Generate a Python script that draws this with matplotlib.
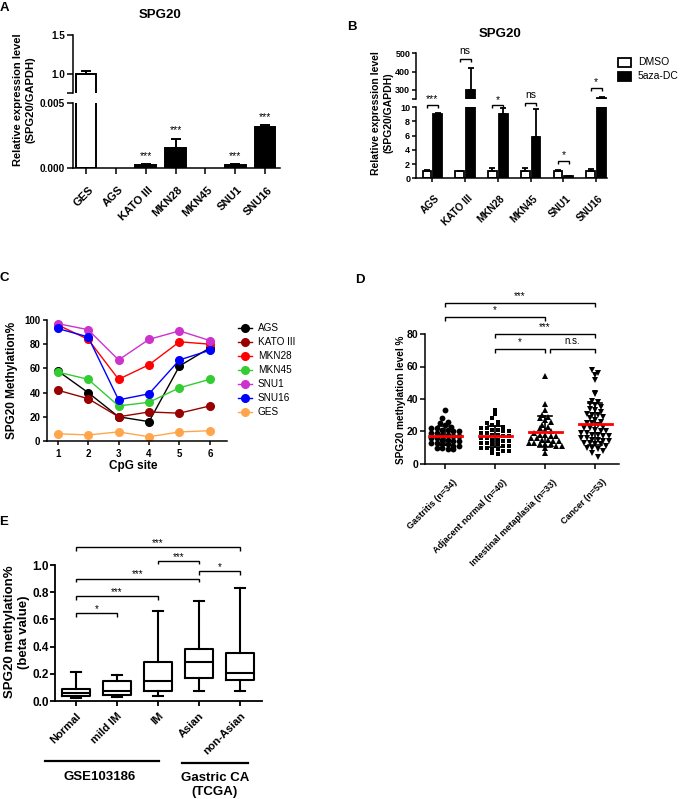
import numpy as np
import matplotlib
matplotlib.use('Agg')
import matplotlib.pyplot as plt
from matplotlib.patches import Rectangle
import matplotlib.transforms as mtransforms

# ---------------- data ----------------
# Panel A: relative expression, cell lines
a_cells = ['GES', 'AGS', 'KATO III', 'MKN28', 'MKN45', 'SNU1', 'SNU16']
a_vals = [1.0, 0.0, 0.00026, 0.00154, 0.0, 0.00025, 0.0032]
a_err = [0.04, 0.0, 0.00007, 0.00074, 0.0, 0.00006, 0.0001]
a_sig = ['', '', '***', '***', '', '***', '***']

# Panel B: DMSO vs 5aza-DC
b_cells = ['AGS', 'KATO III', 'MKN28', 'MKN45', 'SNU1', 'SNU16']
b_dmso = [1.0, 1.0, 1.0, 1.0, 1.0, 1.0]
b_dmso_err = [0.15, 0.05, 0.45, 0.5, 0.12, 0.35]
b_aza = [9.1, 300.0, 9.0, 5.8, 0.35, 256.0]
b_aza_err = [0.05, 118.0, 0.9, 3.9, 0.03, 6.0]
b_sig = ['***', 'ns', '*', 'ns', '*', '*']

# Panel C: methylation per CpG site
c_sites = [1, 2, 3, 4, 5, 6]
c_names = ['AGS', 'KATO III', 'MKN28', 'MKN45', 'SNU1', 'SNU16', 'GES']
c_ags = [58, 40, 20, 16, 62, 77]
c_kato = [42, 35, 20, 24, 23, 29]
c_mkn28 = [96, 84, 51, 63, 82, 80]
c_mkn45 = [57, 51, 29, 32, 44, 51]
c_snu1 = [97, 92, 67, 84, 91, 83]
c_snu16 = [93, 86, 34, 39, 67, 75]
c_ges = [6, 5, 7.5, 3.5, 7.5, 8.5]
c_colors = ['#000000', '#990000', '#FF0000', '#33CC33', '#CC33CC', '#0000FF', '#FFA64D']

# Panel D: tissue methylation levels
d_groups = ['Gastritis (n=34)', 'Adjacent normal (n=40)',
            'Intestinal metaplasia (n=33)', 'Cancer (n=53)']
d_gastritis = [33.5, 28, 26, 25, 24, 23, 22, 22, 21, 21, 20, 20, 19, 19, 18, 18, 17,
               17, 16, 16, 15, 15, 14, 14, 13, 13, 12, 12, 11, 11, 10, 10, 9, 9]
d_adjacent = [33, 31, 28, 26, 25, 24, 24, 23, 22, 22, 21, 21, 20, 20, 19, 19, 18, 18,
              17, 17, 16, 16, 15, 15, 14, 14, 13, 13, 12, 12, 11, 11, 10, 10, 9, 9,
              8, 8, 7, 6]
d_im = [54, 37, 33, 30, 29, 28, 27, 26, 24, 23, 22, 21, 20, 19, 18, 18, 17, 17, 16,
        16, 15, 15, 14, 14, 13, 13, 12, 12, 12, 11, 11, 10, 7]
d_cancer = [58, 56, 55, 52, 44, 43, 39, 38, 37, 36, 35, 34, 33, 32, 31, 30, 30, 29,
            28, 27, 26, 25, 25, 24, 23, 22, 22, 21, 20, 20, 19, 19, 18, 18, 17, 17,
            16, 16, 15, 15, 14, 14, 13, 13, 12, 12, 11, 10, 10, 9, 8, 7, 4.5]
d_sig = ['***', '*', '***', '*', 'n.s.']

# Panel E: box plots (beta value)
e_groups = ['Normal', 'mild IM', 'IM', 'Asian', 'non-Asian']
e_whislo = [0.024, 0.032, 0.035, 0.071, 0.070]
e_q1 = [0.037, 0.046, 0.076, 0.171, 0.156]
e_med = [0.056, 0.076, 0.149, 0.289, 0.205]
e_q3 = [0.090, 0.144, 0.284, 0.379, 0.355]
e_whishi = [0.213, 0.190, 0.665, 0.733, 0.834]
e_sig = ['***', '***', '*', '***', '***', '*']

# ---------------- figure ----------------
W, H = 680, 799
plt.rcParams['font.family'] = ['Liberation Sans', 'DejaVu Sans']
plt.rcParams['font.weight'] = 'bold'
plt.rcParams['axes.linewidth'] = 1.1
plt.rcParams['xtick.major.width'] = 1.1
plt.rcParams['ytick.major.width'] = 1.1

fig = plt.figure(figsize=(W / 100, H / 100), dpi=100)


def ax_px(l, t, r, b):
    ax = fig.add_axes([l / W, 1 - b / H, (r - l) / W, (b - t) / H])
    ax.patch.set_alpha(0)
    for s in ['top', 'right']:
        ax.spines[s].set_visible(False)
    return ax


def hide_bottom(ax):
    ax.spines['bottom'].set_visible(False)
    ax.tick_params(axis='x', bottom=False, labelbottom=False)


def shift_labels(ax, dx_px, dy_px):
    tr = mtransforms.ScaledTranslation(dx_px / 100, -dy_px / 100, fig.dpi_scale_trans)
    for lab in ax.get_xticklabels():
        lab.set_transform(lab.get_transform() + tr)


def bracket(ax, x1, x2, y, leg, text, fs, off_pt):
    ax.plot([x1, x1, x2, x2], [y - leg, y, y, y - leg], color='black', lw=1.0,
            clip_on=False, solid_capstyle='butt', solid_joinstyle='miter')
    ax.annotate(text, ((x1 + x2) / 2, y), xytext=(0, off_pt), textcoords='offset points',
                ha='center', va='baseline', fontsize=fs, fontweight='normal',
                annotation_clip=False)


ov = fig.add_axes([0, 0, 1, 1], zorder=5)
ov.set_xlim(0, W)
ov.set_ylim(H, 0)
ov.axis('off')
ov.patch.set_alpha(0)

# panel letters
for lab, (x, y) in zip('ABCDE', [(4, 8), (352, 27), (4, 278), (360, 280), (4, 522)]):
    ov.text(x, y, lab, fontsize=9.5, fontweight='bold', ha='center', va='center')

# ---------------- Panel A ----------------
xA = np.arange(len(a_cells))
av = np.array(a_vals)
ae = np.array(a_err)
mask = av > 0
colA = np.array(['white'] + ['black'] * 6)
axAu = ax_px(72.7, 35, 280, 92.7)
axAl = ax_px(72.7, 103.3, 280, 168.3)
for ax in (axAu, axAl):
    ax.bar(xA[mask], av[mask], width=0.69, color=colA[mask], edgecolor='black', linewidth=1.4)
    ax.errorbar(xA[mask], av[mask], yerr=[np.zeros(mask.sum()), ae[mask]], fmt='none',
                ecolor='black', elinewidth=1.4, capsize=3.5, capthick=1.4)
    ax.set_xlim(-0.45, 6.5)
    ax.tick_params(axis='both', length=4, labelsize=7.2)
    ax.tick_params(axis='y', pad=1.5)
axAu.set_ylim(0.754, 1.5)
axAu.set_yticks([0.754, 1.0, 1.5])
axAu.set_yticklabels(['', '1.0', '1.5'])
hide_bottom(axAu)
axAl.set_ylim(0, 0.005)
axAl.set_yticks([0, 0.005])
axAl.set_yticklabels(['0.000', '0.005'])
axAl.set_xticks(xA)
axAl.set_xticklabels(a_cells, rotation=45, ha='right', va='top', rotation_mode='anchor',
                     fontsize=8)
shift_labels(axAl, 2, 6)
for i, s in enumerate(a_sig):
    if s:
        axAl.annotate(s, (xA[i], av[i] + ae[i]), xytext=(0, 3.8), textcoords='offset points',
                      ha='center', va='baseline', fontsize=7.5, fontweight='normal')
ov.text(160, 15, 'SPG20', fontsize=9.5, ha='center', va='center')
ov.text(24, 100, 'Relative expression level\n(SPG20/GAPDH)', rotation=90, fontsize=8,
        ha='center', va='center', linespacing=1.25)

# ---------------- Panel B ----------------
xB = np.arange(len(b_cells))
off, bw = 0.165, 0.27
axBu = ax_px(416, 53.3, 607, 99.3)
axBl = ax_px(416, 107.3, 607, 178.3)
for ax in (axBu, axBl):
    ax.bar(xB - off, b_dmso, bw, color='white', edgecolor='black', linewidth=1.3)
    ax.errorbar(xB - off, b_dmso, yerr=[np.zeros(6), b_dmso_err], fmt='none',
                ecolor='black', elinewidth=1.3, capsize=2.5, capthick=1.3)
    ax.bar(xB + off, b_aza, bw, color='black', edgecolor='black', linewidth=1.3)
    ax.errorbar(xB + off, b_aza, yerr=[np.zeros(6), b_aza_err], fmt='none',
                ecolor='black', elinewidth=1.3, capsize=2.5, capthick=1.3)
    ax.set_xlim(-0.5, 5.33)
    ax.tick_params(axis='both', length=3, labelsize=6.5)
    ax.tick_params(axis='y', pad=1.2)
axBu.set_ylim(249, 500)
axBu.set_yticks([249, 300, 400, 500])
axBu.set_yticklabels(['', '300', '400', '500'])
hide_bottom(axBu)
axBl.set_ylim(0, 10)
axBl.set_yticks([0, 2, 4, 6, 8, 10])
axBl.set_xticks(xB)
axBl.set_xticklabels(b_cells, rotation=45, ha='right', va='top', rotation_mode='anchor',
                     fontsize=7.2)
shift_labels(axBl, 2, 6)
# brackets: (axis, height, leg)
b_br = [(axBl, 10.32, 0.42), (axBu, 469, 16), (axBl, 10.3, 0.42), (axBl, 10.6, 0.42),
        (axBl, 2.45, 0.5), (axBu, 311, 16)]
for i, (ax, y, leg) in enumerate(b_br):
    isstar = '*' in b_sig[i]
    bracket(ax, xB[i] - off, xB[i] + off, y, leg, b_sig[i], 7.5, 1.8 if isstar else 3.8)
ov.add_patch(Rectangle((618, 57.5), 13, 9, facecolor='white', edgecolor='black', lw=1.3))
ov.add_patch(Rectangle((618, 71.5), 13, 9, facecolor='black', edgecolor='black', lw=1.3))
ov.text(638, 62, 'DMSO', fontsize=7.5, fontweight='normal', va='center')
ov.text(638, 76, '5aza-DC', fontsize=7.5, fontweight='normal', va='center')
ov.text(500, 34, 'SPG20', fontsize=9.5, ha='center', va='center')
ov.text(382, 113, 'Relative expression level\n(SPG20/GAPDH)', rotation=90, fontsize=7.5,
        ha='center', va='center', linespacing=1.25)

# ---------------- Panel C ----------------
axC = ax_px(46.7, 320, 226.7, 441)
c_all = [c_ags, c_kato, c_mkn28, c_mkn45, c_snu1, c_snu16, c_ges]
for vals, col in zip(c_all, c_colors):
    axC.plot(c_sites, vals, '-o', color=col, lw=1.0, ms=5.5, mec=col)
axC.set_xlim(0.64, 6.55)
axC.set_ylim(0, 100)
axC.set_yticks([0, 20, 40, 60, 80, 100])
axC.set_xticks(c_sites)
axC.tick_params(axis='both', length=3, labelsize=7)
axC.tick_params(axis='y', pad=1.5)
axC.tick_params(axis='x', pad=2.5)
for i, (name, col) in enumerate(zip(c_names, c_colors)):
    y = 328 + 14 * i
    ov.plot([238, 252], [y, y], color=col, lw=1.0)
    ov.plot([245], [y], 'o', color=col, ms=5.5)
    ov.text(258, y, name, fontsize=7.2, fontweight='normal', va='center')
ov.text(12, 380, 'SPG20 Methylation%', rotation=90, fontsize=8.5, ha='center', va='center')
ov.text(133, 466, 'CpG site', fontsize=8.5, ha='center', va='center')

# ---------------- Panel D ----------------
axD = ax_px(425, 334, 619, 464)
d_all = [d_gastritis, d_adjacent, d_im, d_cancer]
d_markers = ['o', 's', '^', 'v']
d_ms = [4.2, 3.3, 4.4, 4.4]


def swarm_offsets(vals, ybin, dx):
    vals = np.asarray(vals, dtype=float)
    bins = np.round(vals / ybin).astype(int)
    offs = np.zeros(len(vals))
    for b in np.unique(bins):
        idx = np.where(bins == b)[0]
        k = len(idx)
        offs[idx] = (np.arange(k) - (k - 1) / 2) * dx
    return offs


for i, (vals, mk, ms) in enumerate(zip(d_all, d_markers, d_ms)):
    vals = np.asarray(vals, dtype=float)
    xs = i + swarm_offsets(vals, 3.0, 0.11)
    axD.plot(xs, vals, mk, color='black', ms=ms, mew=0, clip_on=False)
    m, sd = vals.mean(), vals.std(ddof=1)
    axD.plot([i, i], [m - sd, m + sd], color='black', lw=1.2, zorder=3)
    axD.plot([i - 0.14, i + 0.14], [m - sd, m - sd], color='black', lw=1.2, zorder=3)
    axD.plot([i - 0.14, i + 0.14], [m + sd, m + sd], color='black', lw=1.2, zorder=3)
    axD.plot([i - 0.33, i + 0.33], [m, m], color='#FF0000', lw=2.0, zorder=4)
axD.set_xlim(-0.4, 3.48)
axD.set_ylim(0, 80)
axD.set_yticks([0, 20, 40, 60, 80])
axD.set_xticks(range(4))
axD.set_xticklabels(d_groups, rotation=45, ha='right', va='top', rotation_mode='anchor',
                    fontsize=6.5)
axD.tick_params(axis='both', length=3.5, labelsize=7.5)
axD.tick_params(axis='y', pad=1.5)
axD.tick_params(axis='x', labelsize=6.5)
shift_labels(axD, 7, 4)
d_br = [(0, 3, 99), (0, 2, 90.5), (1, 3, 80), (1, 2, 71), (2.1, 3, 71)]
for (x1, x2, y), s in zip(d_br, d_sig):
    bracket(axD, x1, x2, y, 2.6, s, 7, 2.8 if '*' in s else 3.5)
ov.text(401, 400, 'SPG20 methylation level %', rotation=90, fontsize=7.2, ha='center',
        va='center')

# ---------------- Panel E ----------------
axE = ax_px(55, 565, 262, 701)
stats = [dict(whislo=a, q1=b, med=c, q3=d, whishi=e, fliers=[])
         for a, b, c, d, e in zip(e_whislo, e_q1, e_med, e_q3, e_whishi)]
lp = dict(color='black', lw=1.5)
axE.bxp(stats, positions=range(5), widths=0.68, showfliers=False, boxprops=lp,
        medianprops=lp, whiskerprops=lp, capprops=lp, capwidths=0.26)
axE.set_xlim(-0.51, 4.54)
axE.set_ylim(0, 1.0)
axE.set_yticks([0, 0.2, 0.4, 0.6, 0.8, 1.0])
axE.set_yticklabels(['0.0', '0.2', '0.4', '0.6', '0.8', '1.0'])
axE.set_xticks(range(5))
axE.set_xticklabels(e_groups, rotation=45, ha='right', va='top', rotation_mode='anchor',
                    fontsize=8)
axE.tick_params(axis='both', length=3.5, labelsize=8.5, width=1.3)
axE.tick_params(axis='y', pad=1.0)
axE.tick_params(axis='x', labelsize=8)
for s in ['left', 'bottom']:
    axE.spines[s].set_linewidth(1.3)
e_br = [(0, 4, 1.13), (2, 3, 1.03), (3, 4, 0.955), (0, 3, 0.90), (0, 2, 0.77), (0, 1, 0.645)]
for (x1, x2, y), s in zip(e_br, e_sig):
    bracket(axE, x1, x2, y, 0.025, s, 7, 0.8)
ov.text(17, 632, 'SPG20 methylation%\n(beta value)', rotation=90, fontsize=9.5,
        ha='center', va='center', linespacing=1.15)
ov.plot([45, 159], [761, 761], color='black', lw=1.6)
ov.plot([182, 248], [763, 763], color='black', lw=1.6)
ov.text(100, 777, 'GSE103186', fontsize=9.5, ha='center', va='center')
ov.text(215, 785, 'Gastric CA\n(TCGA)', fontsize=9.5, ha='center', va='center',
        linespacing=1.15)

fig.savefig('out.png', dpi=100)
